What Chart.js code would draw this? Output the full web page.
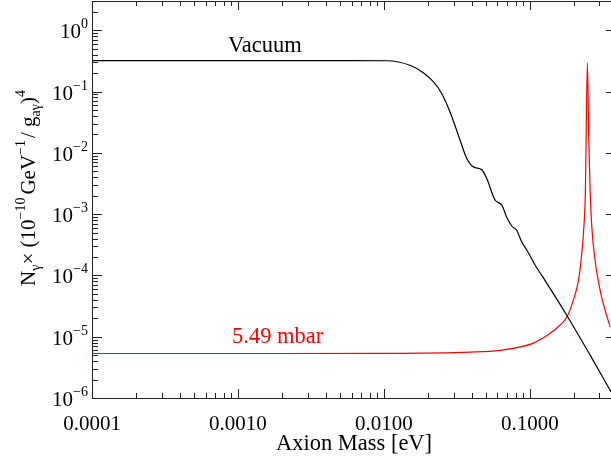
<!DOCTYPE html>
<html>
<head>
<meta charset="utf-8">
<script src="https://cdn.jsdelivr.net/npm/chart.js@4/dist/chart.umd.min.js"></script>
<style>
  html, body { margin: 0; padding: 0; background: #fff; }
  #wrap { width: 611px; height: 461px; }
</style>
</head>
<body>
<div id="wrap"><canvas id="chart" width="611" height="461"></canvas></div>
<script>
// Vacuum curve (axion mass in eV, N_gamma)
const vacuumMass = [0.0001, 0.001, 0.005, 0.0105, 0.0151, 0.0187, 0.0219, 0.0249, 0.0284, 0.0324,
  0.037, 0.0411, 0.0469, 0.0507, 0.0578, 0.0643, 0.0695, 0.0752, 0.0814, 0.0881,
  0.0953, 0.1032, 0.1086, 0.1208, 0.179, 0.259, 0.36];
const vacuumN = [0.32, 0.32, 0.32, 0.318, 0.268, 0.201, 0.1436, 0.093, 0.0465, 0.0194,
  0.0081, 0.0059, 0.0053, 0.0038, 0.0017, 0.0014, 8.9e-4, 6.4e-4, 5.4e-4, 3.5e-4,
  2.6e-4, 1.85e-4, 1.48e-4, 1.0e-4, 2.24e-5, 5.0e-6, 1.26e-6];

// 5.49 mbar gas curve
const gasMass = [0.0001, 0.001, 0.01, 0.039, 0.0625, 0.105, 0.138, 0.1614, 0.1795, 0.199,
  0.2155, 0.2271, 0.2355, 0.2404, 0.243, 0.248, 0.2536, 0.259, 0.266, 0.28,
  0.303, 0.328, 0.355];
const gasN = [5.32e-6, 5.32e-6, 5.35e-6, 5.6e-6, 6.0e-6, 7.8e-6, 1.14e-5, 1.55e-5, 2.09e-5, 3.98e-5,
  8.3e-5, 2.29e-4, 7.1e-4, 2.45e-3, 0.0162, 0.293, 0.0162, 2.45e-3, 6.2e-4, 1.78e-4,
  5.75e-5, 2.7e-5, 1.45e-5];

const xTicks = [0.0001, 0.001, 0.01, 0.1];
const xTickLabels = ['0.0001', '0.0010', '0.0100', '0.1000'];
const yExponents = [0, -1, -2, -3, -4, -5, -6];

const FONT = 'Liberation Serif';

function toPoints(xs, ys) {
  return xs.map((x, i) => ({ x: x, y: ys[i] }));
}

// draws text runs: normal, superscript, subscript
function drawRuns(ctx, runs, x, y) {
  let cx = x;
  runs.forEach(r => {
    const small = r.k !== 'n';
    ctx.font = (small ? 14 : 21) + 'px "' + FONT + '"';
    const dy = r.k === 'sup' ? -10 : (r.k === 'sub' ? 5 : 0);
    ctx.fillText(r.t, cx, y + dy);
    cx += ctx.measureText(r.t).width + (r.gap || 0);
  });
  return cx - x;
}
function measureRuns(ctx, runs) {
  let w = 0;
  runs.forEach(r => {
    ctx.font = (r.k !== 'n' ? 14 : 21) + 'px "' + FONT + '"';
    w += ctx.measureText(r.t).width + (r.gap || 0);
  });
  return w;
}

const framePlugin = {
  id: 'frame',
  afterDatasetsDraw(chart) {
    const ctx = chart.ctx;
    const a = chart.chartArea;
    const xs = chart.scales.x, ys = chart.scales.y;
    ctx.save();
    ctx.strokeStyle = '#222';
    ctx.lineWidth = 1;
    ctx.beginPath();
    ctx.rect(a.left + 0.5, a.top + 0.5, a.right - a.left, a.bottom - a.top);
    ctx.stroke();

    ctx.beginPath();
    // x ticks (inside, bottom and top)
    for (let e = -4; e <= -1; e++) {
      for (let k = 1; k <= 9; k++) {
        const v = k * Math.pow(10, e);
        if (v > xs.max) break;
        const px = Math.round(xs.getPixelForValue(v)) + 0.5;
        const len = k === 1 ? 9 : 5;
        ctx.moveTo(px, a.bottom); ctx.lineTo(px, a.bottom - len);
        ctx.moveTo(px, a.top); ctx.lineTo(px, a.top + len);
      }
    }
    // y ticks (inside, left full, right only the visible major stubs)
    for (let e = -6; e <= 0; e++) {
      for (let k = 1; k <= 9; k++) {
        const v = k * Math.pow(10, e);
        if (v > ys.max) break;
        const py = Math.round(ys.getPixelForValue(v)) + 0.5;
        const len = k === 1 ? 10 : 6;
        ctx.moveTo(a.left, py); ctx.lineTo(a.left + len, py);
        if (k === 1) { ctx.moveTo(a.right, py); ctx.lineTo(a.right - 5, py); }
      }
    }
    ctx.stroke();
    ctx.restore();
  },
  afterDraw(chart) {
    const ctx = chart.ctx;
    const a = chart.chartArea;
    const xs = chart.scales.x, ys = chart.scales.y;
    ctx.save();
    ctx.fillStyle = '#000';
    ctx.textBaseline = 'alphabetic';

    // y tick labels 10^n
    yExponents.forEach(e => {
      const py = ys.getPixelForValue(Math.pow(10, e));
      const sup = e === 0 ? '0' : '\u2212' + Math.abs(e);
      ctx.font = '14px "' + FONT + '"';
      const sw = ctx.measureText(sup).width;
      ctx.font = '21px "' + FONT + '"';
      const mw = ctx.measureText('10').width;
      const right = a.left - 4;
      ctx.fillText('10', right - sw - mw, py + 8);
      ctx.font = '14px "' + FONT + '"';
      ctx.fillText(sup, right - sw, py - 2);
    });

    // x axis title
    ctx.font = '22.5px "' + FONT + '"';
    ctx.textAlign = 'center';
    ctx.fillText('Axion Mass [eV]', 354, 450);
    ctx.textAlign = 'left';

    // y axis title
    const runs = [
      { t: 'N', k: 'n' }, { t: '\u03b3', k: 'sub' },
      { t: '\u00d7 (10', k: 'n' }, { t: '\u221210', k: 'sup', gap: 3 },
      { t: 'GeV', k: 'n' }, { t: '\u22121', k: 'sup', gap: 2 },
      { t: '/ g', k: 'n' }, { t: 'a\u03b3', k: 'sub' },
      { t: ')', k: 'n' }, { t: '4', k: 'sup' }
    ];
    const w = measureRuns(ctx, runs);
    ctx.translate(0, 188);
    ctx.rotate(-Math.PI / 2);
    drawRuns(ctx, runs, -w / 2, 35);
    ctx.restore();

    // curve labels
    ctx.save();
    ctx.font = '22.5px "' + FONT + '"';
    curveLabels.forEach(l => {
      ctx.fillStyle = l.color;
      ctx.fillText(l.text, xs.getPixelForValue(l.x), ys.getPixelForValue(l.y));
    });
    ctx.restore();
  }
};

const curveLabels = [
  { text: 'Vacuum', x: 0.000855, y: 0.44, color: '#000' },
  { text: '5.49 mbar', x: 0.000911, y: 7.8e-6, color: '#ff0000' }
];

new Chart(document.getElementById('chart').getContext('2d'), {
  type: 'line',
  data: {
    datasets: [{
      label: 'Vacuum',
      data: toPoints(vacuumMass, vacuumN),
      borderColor: '#000',
      borderWidth: 1.2,
      pointRadius: 0,
      cubicInterpolationMode: 'monotone',
      fill: false
    }, {
      label: '5.49 mbar',
      data: toPoints(gasMass, gasN),
      borderColor: '#ff0000',
      borderWidth: 1.2,
      pointRadius: 0,
      cubicInterpolationMode: 'monotone',
      fill: false
    }]
  },
  options: {
    responsive: false,
    animation: false,
    devicePixelRatio: 1,
    layout: { padding: { top: 1, right: 0, left: 0, bottom: 0 } },
    plugins: {
      legend: { display: false },
      tooltip: { enabled: false }
    },
    scales: {
      x: {
        type: 'logarithmic',
        min: 0.0001,
        max: 0.36,
        afterBuildTicks: s => { s.ticks = xTicks.map(v => ({ value: v })); },
        afterFit: s => { s.height = 63; },
        ticks: {
          autoSkip: false,
          maxRotation: 0,
          padding: 14,
          color: '#000',
          font: { family: FONT, size: 21 },
          callback: (v, i) => xTickLabels[i]
        },
        grid: { display: false, drawTicks: false },
        border: { display: false }
      },
      y: {
        type: 'logarithmic',
        min: 1e-6,
        max: 3,
        afterFit: s => { s.width = 92; },
        ticks: { display: false },
        grid: { display: false, drawTicks: false },
        border: { display: false }
      }
    }
  },
  plugins: [framePlugin]
});
</script>
</body>
</html>
